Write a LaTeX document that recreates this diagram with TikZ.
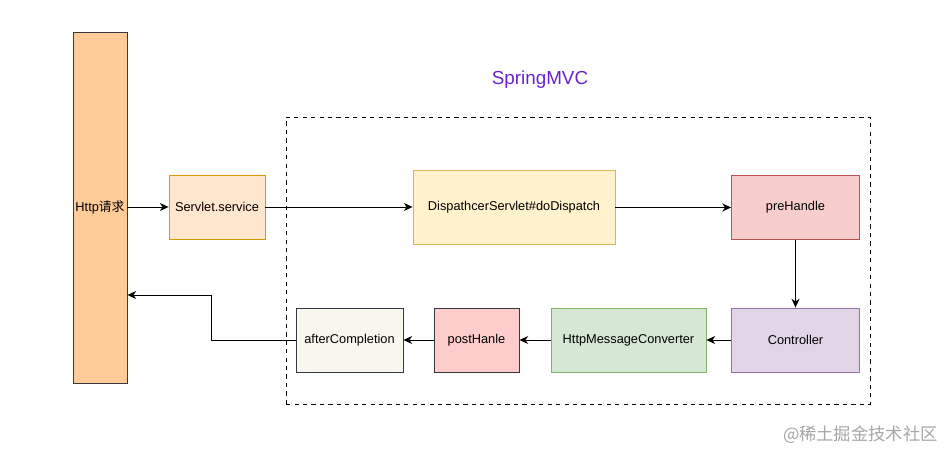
\documentclass[tikz,border=0pt]{standalone}
\usepackage{fontspec}
\setmainfont{Liberation Sans}
\newfontfamily\cjk{Noto Sans CJK SC}
\usetikzlibrary{arrows.meta,positioning}
\definecolor{httpfill}{HTML}{FFCC99}
\definecolor{darkline}{HTML}{36393D}
\definecolor{servfill}{HTML}{FFE6CC}
\definecolor{servline}{HTML}{D79B00}
\definecolor{dispfill}{HTML}{FFF2CC}
\definecolor{displine}{HTML}{D6B656}
\definecolor{prefill}{HTML}{F8CECC}
\definecolor{preline}{HTML}{B85450}
\definecolor{ctrlfill}{HTML}{E1D5E7}
\definecolor{ctrlline}{HTML}{9673A6}
\definecolor{convfill}{HTML}{D5E8D4}
\definecolor{convline}{HTML}{82B366}
\definecolor{postfill}{HTML}{FFCCCC}
\definecolor{afterfill}{HTML}{F9F7ED}
\definecolor{mvcpurple}{HTML}{6A22CC}
\begin{document}
\begin{tikzpicture}[
    every node/.style={font=\fontsize{9.1}{11}\selectfont, inner sep=0pt},
    box/.style={draw, rectangle, line width=0.6pt, minimum height=1.6cm},
    flow/.style={-{Stealth[length=2.2mm,width=2mm]}, line width=0.6pt}
]
\useasboundingbox (0,0) rectangle (23.6,11.275);
% Ingresso
\node[box, fill=httpfill, draw=darkline, minimum width=1.35cm, minimum height=8.775cm] (http) at (2.5,6.0875) {Http{\cjk 请求}};
\node[box, fill=servfill, draw=servline, minimum width=2.4cm] (servlet) at (5.425,6.1) {Servlet.service};

% SpringMVC
\node[font=\fontsize{13.4}{15}\selectfont, text=mvcpurple] (title) at (13.5,9.275) {SpringMVC};
\draw[dashed, line width=0.6pt] (7.15,1.175) rectangle (21.75,8.35);
\node[box, fill=dispfill, draw=displine, minimum width=5.05cm, minimum height=1.85cm] (dispatch) at (12.85,6.1) {DispathcerServlet\#doDispatch};
\node[box, fill=prefill, draw=preline, minimum width=3.2cm] (prehandle) at (19.8875,6.0875) {preHandle};
\node[box, fill=ctrlfill, draw=ctrlline, minimum width=3.2cm] (controller) at (19.8875,2.775) {Controller};
\node[box, fill=convfill, draw=convline, minimum width=3.875cm] (converter) at (15.7125,2.775) {HttpMessageConverter};
\node[box, fill=postfill, draw=darkline, minimum width=2.125cm] (posthanle) at (11.9125,2.775) {postHanle};
\node[box, fill=afterfill, draw=darkline, minimum width=2.675cm] (after) at (8.7375,2.775) {afterCompletion};

% Frecce
\draw[flow] (http.east |- servlet.west) -- (servlet.west);
\draw[flow] (servlet.east) -- (servlet.east -| dispatch.west);
\draw[flow] (dispatch.east |- prehandle.west) -- (prehandle.west);
\draw[flow] (prehandle) -- (controller);
\draw[flow] (controller) -- (converter);
\draw[flow] (converter) -- (posthanle);
\draw[flow] (posthanle) -- (after);
\coordinate (turn) at (5.275,3.9);
\draw[flow] (after.west) -| (turn) -- (http.east |- turn);

\node[anchor=east, text=black!35, font=\cjk\fontsize{12.3}{14}\selectfont] (mark) at (23.45,0.42) {@稀土掘金技术社区};
\end{tikzpicture}
\end{document}
